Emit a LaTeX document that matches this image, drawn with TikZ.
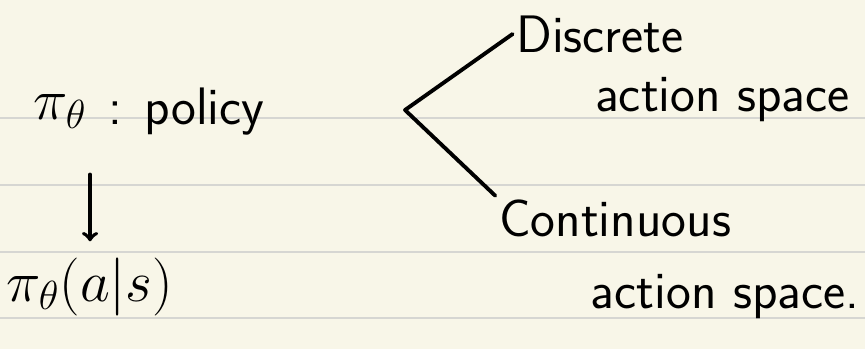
\RequirePackage{fix-cm}
\documentclass[tikz,border=0pt]{standalone}
\usetikzlibrary{arrows, positioning}
\definecolor{paper}{HTML}{F8F6E8}
\definecolor{ruling}{HTML}{D6D6D2}

\begin{document}
\begin{tikzpicture}[line width=2.2pt, line cap=round, line join=round,
    hand/.style={font=\sffamily\fontsize{30}{32}\selectfont, inner sep=1pt}]
\fill[paper] (0,0) rectangle (17.3,6.98);
\useasboundingbox (0,0) rectangle (17.3,6.98);
% ruled lines of the notebook page
\foreach \y in {4.62, 3.28, 1.94, 0.62}
  \draw[ruling, line width=0.9pt] (0,\y) -- (17.3,\y);
\node[hand, font=\sffamily\fontsize{33}{34}\selectfont] (pi) at (1.2,4.75) {$\pi_\theta$};
\node[hand, right=0.3cm of pi] (policy) {: policy};
\node[hand, font=\sffamily\fontsize{33}{34}\selectfont] (pias) at (1.8,1.25) {$\pi_\theta(a|s)$};
\node[hand] (discrete) at (12.0,6.3) {Discrete};
\node[hand] (discact) at (14.45,4.98) {action space};
\node[hand] (cont) at (12.3,2.62) {Continuous};
\node[hand] (contact) at (14.5,1.05) {action space.};
\coordinate (fork) at (8.1,4.78);
\draw[->, shorten <=0.85cm, shorten >=0.25cm] (pi.south east) -- (pi.south east |- pias.north);
\draw (discrete.west) -- (fork) -- (cont.north west);
\end{tikzpicture}
\end{document}
